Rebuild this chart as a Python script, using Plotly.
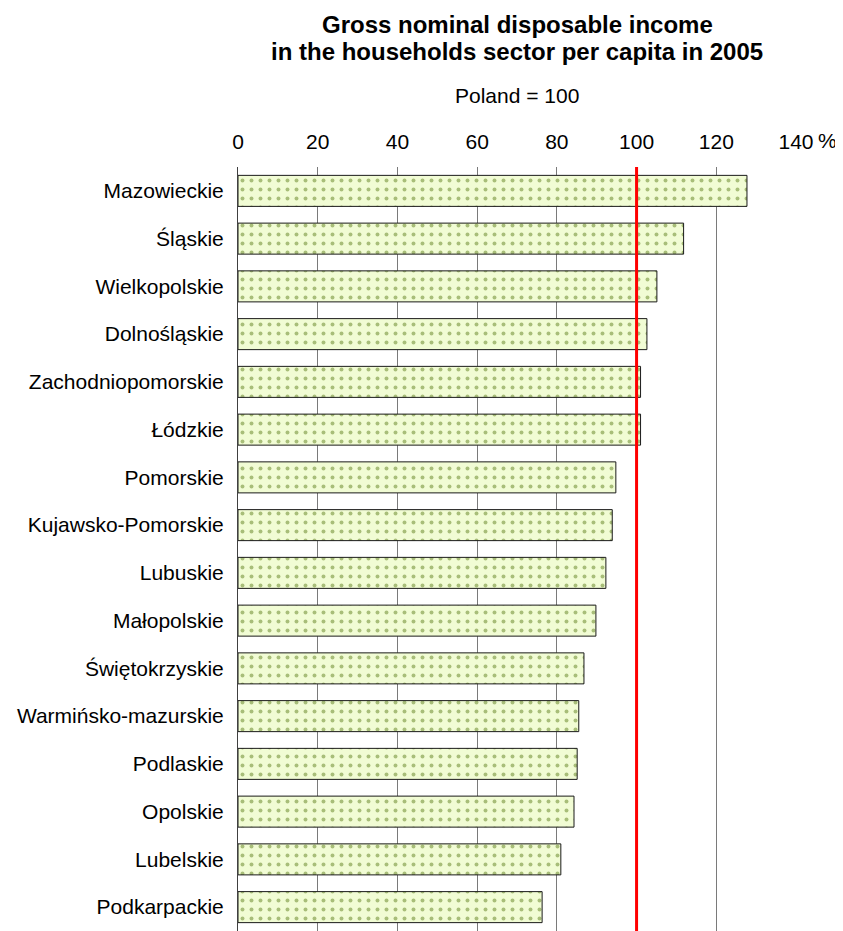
import plotly.graph_objects as go

regions = ["Mazowieckie", "Śląskie", "Wielkopolskie", "Dolnośląskie",
           "Zachodniopomorskie", "Łódzkie", "Pomorskie", "Kujawsko-Pomorskie",
           "Lubuskie", "Małopolskie", "Świętokrzyskie", "Warmińsko-mazurskie",
           "Podlaskie", "Opolskie", "Lubelskie", "Podkarpackie"]
values = [127.7, 111.8, 105.1, 102.6, 101.0, 101.0, 94.8, 93.9,
          92.3, 89.8, 86.8, 85.5, 85.1, 84.3, 81.0, 76.3]
tick_vals = [0, 20, 40, 60, 80, 100, 120, 140]
tick_text = ["0", "20", "40", "60", "80", "100", "120", "140"]
reference_value = 100

FONT = "Liberation Sans, Arial, sans-serif"

fig = go.Figure(go.Bar(
    y=regions, x=values, orientation="h",
    marker=dict(color="#f1fcd4",
                line=dict(color="#1a1a1a", width=1),
                pattern=dict(shape=".", fgcolor="#5f7f1e", bgcolor="#f1fcd4",
                             size=9, solidity=0.15, fillmode="overlay")),
    width=0.65,
))

fig.add_shape(type="line", xref="x", yref="paper",
              x0=reference_value, x1=reference_value, y0=0, y1=1,
              line=dict(color="#ff0000", width=3), layer="above")

fig.update_layout(
    width=835, height=923,
    margin=dict(l=230, r=47, t=159, b=0),
    paper_bgcolor="white", plot_bgcolor="white",
    showlegend=False,
    font=dict(family=FONT, size=21, color="black"),
    xaxis=dict(side="top", range=[0, 140], tickvals=tick_vals, ticktext=tick_text,
               showgrid=True, gridcolor="#7a7a7a", gridwidth=1,
               zeroline=False, showline=False, ticks="", ticklabelstandoff=13,
               tickfont=dict(size=21)),
    yaxis=dict(autorange="reversed", showgrid=False, showline=True,
               linecolor="#404040", linewidth=1, ticks="",
               ticklabelstandoff=9, tickfont=dict(size=21)),
    annotations=[
        dict(text="<b>Gross nominal disposable income</b>",
             xref="paper", yref="paper", x=0.5, y=1, yshift=143, xanchor="center",
             yanchor="middle", showarrow=False, font=dict(size=24)),
        dict(text="<b>in the households sector per capita in 2005</b>",
             xref="paper", yref="paper", x=0.5, y=1, yshift=116, xanchor="center",
             yanchor="middle", showarrow=False, font=dict(size=24)),
        dict(text="Poland = 100", xref="paper", yref="paper", x=0.5, y=1,
             yshift=72, xanchor="center", yanchor="middle", showarrow=False,
             font=dict(size=21)),
        dict(text="%", xref="x", yref="paper", x=140, y=1, xshift=20, yshift=27,
             xanchor="left", yanchor="middle", showarrow=False, font=dict(size=21)),
    ],
)

fig.write_html("out.html")
